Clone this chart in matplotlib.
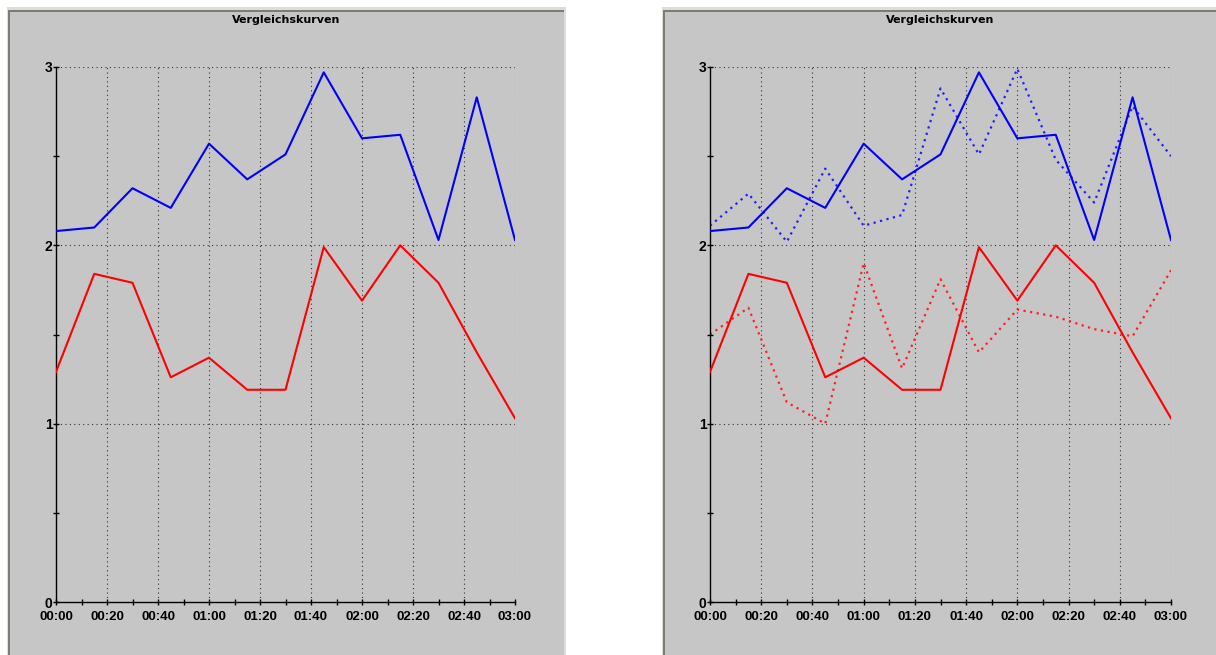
import numpy as np
import matplotlib
matplotlib.use("Agg")
from matplotlib import pyplot as plt
from matplotlib.patches import Rectangle
from matplotlib.ticker import MultipleLocator, FixedLocator

# minutes since 00:00, one point every 15 min
minutes = [0, 15, 30, 45, 60, 75, 90, 105, 120, 135, 150, 165, 180]
tick_minutes = [0, 20, 40, 60, 80, 100, 120, 140, 160, 180]
tick_labels = ["00:00", "00:20", "00:40", "01:00", "01:20", "01:40",
               "02:00", "02:20", "02:40", "03:00"]

blue_solid = [2.08, 2.10, 2.32, 2.21, 2.57, 2.37, 2.51, 2.97, 2.60, 2.62, 2.03, 2.83, 2.03]
red_solid = [1.29, 1.84, 1.79, 1.26, 1.37, 1.19, 1.19, 1.99, 1.69, 2.00, 1.79, 1.40, 1.03]
blue_dotted = [2.11, 2.29, 2.02, 2.43, 2.11, 2.17, 2.88, 2.51, 2.99, 2.48, 2.24, 2.78, 2.50]
red_dotted = [1.50, 1.65, 1.12, 1.00, 1.90, 1.31, 1.81, 1.40, 1.64, 1.60, 1.53, 1.49, 1.86]

title = "Vergleichskurven"
W, H = 1216, 655
panel_bg = "#c6c6c6"

fig = plt.figure(figsize=(W / 100, H / 100), dpi=100)
fig.patch.set_facecolor("white")


def px(x, y):
    # pixel coords (top-left origin) -> figure fraction
    return x / W, 1 - y / H


def panel(x0, x1):
    # window-like gray frame, drawn behind the axes
    for off, shrink, col in [(0, 0, "#deded8"), (1, 3, "#7c7c74"), (3, 5, panel_bg)]:
        fig.patches.append(Rectangle(px(x0 + off, H + 5), (x1 - x0 - shrink) / W,
                                     (H - 2 - shrink) / H, transform=fig.transFigure,
                                     facecolor=col, edgecolor="none", zorder=-5))


def make_axes(x0, x1, x_title, with_dotted):
    left, top = px(x0, 67)
    right, bottom = px(x1, 602)
    ax = fig.add_axes([left, bottom, right - left, top - bottom])
    ax.set_facecolor("none")
    ax.set_xlim(0, 180)
    ax.set_ylim(0, 3)
    for s in ["top", "right"]:
        ax.spines[s].set_visible(False)
    for s in ["left", "bottom"]:
        ax.spines[s].set_linewidth(1.0)
        ax.spines[s].set_color("black")

    ax.xaxis.set_major_locator(FixedLocator(tick_minutes))
    ax.set_xticklabels(tick_labels)
    ax.xaxis.set_minor_locator(MultipleLocator(10))
    ax.yaxis.set_major_locator(MultipleLocator(1))
    ax.yaxis.set_minor_locator(MultipleLocator(0.5))
    ax.tick_params(which="both", direction="inout", length=5, width=1, labelsize=9.5)
    ax.tick_params(axis="x", pad=4)
    ax.tick_params(axis="y", pad=0)
    for lab in ax.get_xticklabels() + ax.get_yticklabels():
        lab.set_fontweight("bold")
        lab.set_fontfamily(["Liberation Sans", "DejaVu Sans"])
    for lab in ax.get_yticklabels():
        lab.set_fontsize(10)
        lab.set_va("center_baseline")

    for t in tick_minutes[1:]:
        ax.axvline(t, color="#333333", linestyle=(0, (1, 3)), linewidth=0.8, zorder=1)
    for v in [1, 2, 3]:
        ax.axhline(v, color="#333333", linestyle=(0, (1, 3)), linewidth=0.8, zorder=1)

    if with_dotted:
        ax.plot(minutes, blue_dotted, color="#2020ff", linestyle=(0, (1, 2)), linewidth=1.6, zorder=2)
        ax.plot(minutes, red_dotted, color="#ff2020", linestyle=(0, (1, 2)), linewidth=1.6, zorder=2)
    ax.plot(minutes, blue_solid, color="#0000ff", linewidth=1.5, zorder=3)
    ax.plot(minutes, red_solid, color="#ff0000", linewidth=1.5, zorder=3)

    fig.text(*px(x_title, 20), title, ha="center", va="center",
             fontsize=8, fontweight="bold", family="DejaVu Sans")
    return ax


panel(7, 566)
panel(662, 1219)
make_axes(56, 515, 286, False)
make_axes(710, 1171, 940, True)

plt.savefig("out.png", dpi=100)
